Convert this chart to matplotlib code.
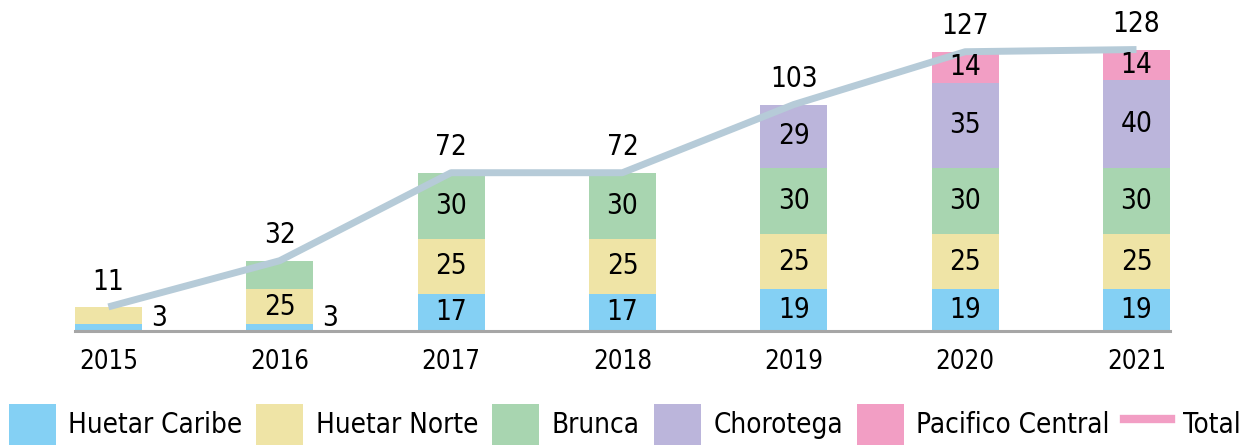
import numpy as np
import matplotlib.pyplot as plt
from matplotlib import font_manager
from matplotlib.patches import Patch
from matplotlib.lines import Line2D

years = ['2015', '2016', '2017', '2018', '2019', '2020', '2021']
regions = ['Huetar Caribe', 'Huetar Norte', 'Brunca', 'Chorotega', 'Pacifico Central']

# segment heights as drawn in the picture
caribe = [3, 3, 17, 17, 19, 19, 19]
norte = [8, 16, 25, 25, 25, 25, 25]
brunca = [0, 13, 30, 30, 30, 30, 30]
chorotega = [0, 0, 0, 0, 29, 39, 40]
pacifico = [0, 0, 0, 0, 0, 14, 14]
total = [11, 32, 72, 72, 103, 127, 128]

# numbers printed on the segments
caribe_lbl = ['3', '3', '17', '17', '19', '19', '19']
norte_lbl = ['', '25', '25', '25', '25', '25', '25']
brunca_lbl = ['', '', '30', '30', '30', '30', '30']
chorotega_lbl = ['', '', '', '', '29', '35', '40']
pacifico_lbl = ['', '', '', '', '', '14', '14']

colors = ['#84d0f4', '#efe4a6', '#a8d5b0', '#bbb5db', '#f29ec4']
line_color = '#b6cbd8'

# look for a narrow font, otherwise an Arial-like one
names = {f.name for f in font_manager.fontManager.ttflist}
cond = [f for f in font_manager.fontManager.ttflist
        if f.name == 'DejaVu Sans' and f.stretch in ('condensed', 'semi-condensed', 600, 500)]
narrow = True
if 'Liberation Sans Narrow' in names:
    plt.rcParams['font.family'] = ['Liberation Sans Narrow', 'DejaVu Sans']
elif cond:
    plt.rcParams['font.family'] = ['DejaVu Sans']
    plt.rcParams['font.stretch'] = 'condensed'
else:
    plt.rcParams['font.family'] = ['Liberation Sans', 'DejaVu Sans']
    narrow = False
fs = 20

fig = plt.figure(figsize=(12.6, 4.45), dpi=100)
ax = fig.add_axes([0.0595, 0.256, 0.869, 0.692])

x = np.arange(len(years))
w = 0.39
series = [caribe, norte, brunca, chorotega, pacifico]
lbls = [caribe_lbl, norte_lbl, brunca_lbl, chorotega_lbl, pacifico_lbl]
bottom = np.zeros(len(years))
for vals, lab, c, name in zip(series, lbls, colors, regions):
    vals = np.array(vals, dtype=float)
    ax.bar(x, vals, w, bottom=bottom, color=c, label=name, zorder=2)
    for i in range(len(years)):
        if lab[i] == '':
            continue
        if vals[i] < 5:
            # small segment: number sits to the right of the bar
            ax.text(x[i] + w / 2 + 0.1, bottom[i] + 6, lab[i], ha='center', va='center',
                    fontsize=fs, zorder=4)
        else:
            ax.text(x[i], bottom[i] + vals[i] / 2, lab[i], ha='center', va='center',
                    fontsize=fs, zorder=4)
    bottom += vals

ax.plot(x, total, color=line_color, lw=5, zorder=3, solid_capstyle='butt')
for i, t in enumerate(total):
    ax.text(x[i], t + 11.5, str(t), ha='center', va='center', fontsize=fs, zorder=4)

ax.set_xlim(-w / 2, len(years) - 1 + w / 2)
ax.set_ylim(0, 140)
ax.set_xticks(x)
ax.set_xticklabels(years, fontsize=18.5)
ax.tick_params(axis='x', length=0, pad=13)
ax.set_yticks([])
for s in ['top', 'right', 'left']:
    ax.spines[s].set_visible(False)
ax.spines['bottom'].set_color('#a6a6a6')
ax.spines['bottom'].set_linewidth(2.2)

lfs = fs if narrow else 16
handles = [Patch(facecolor=c, edgecolor='none') for c in colors]
handles.append(Line2D([0], [0], color='#f29ec4', lw=6))
fig.legend(handles, regions + ['Total'], loc='lower left', bbox_to_anchor=(0.007, 0.0),
           ncol=6, frameon=False, fontsize=lfs, handlelength=47 / (lfs * 1.389),
           handleheight=53 / (lfs * 1.389), handletextpad=0.45, columnspacing=0.5,
           borderpad=0, borderaxespad=0)

fig.savefig('out.png', dpi=100)
